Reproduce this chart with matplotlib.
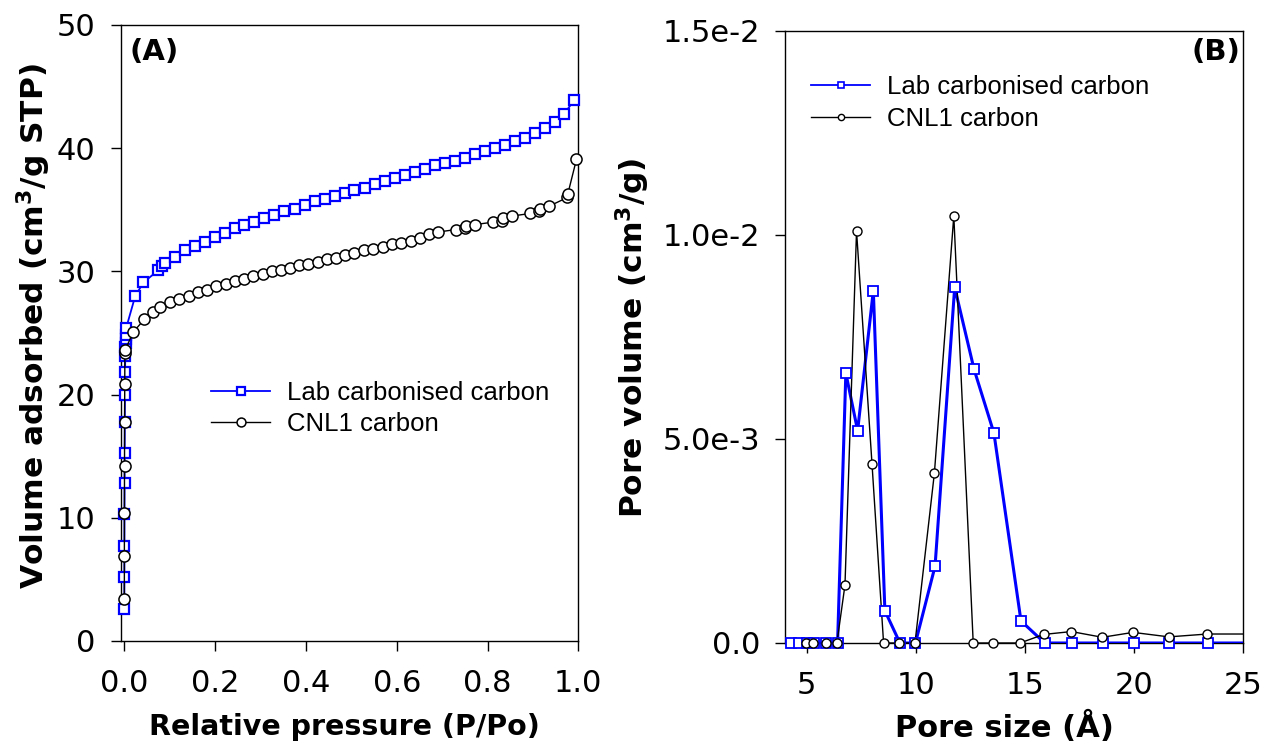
import numpy as np
import matplotlib
matplotlib.use("Agg")
import matplotlib.pyplot as plt
from matplotlib.ticker import FixedLocator, FixedFormatter
from matplotlib.lines import Line2D

# ---------------- data: panel A (isotherms) ----------------
pA_lab = [0.00005, 0.0001, 0.0002, 0.0003, 0.0005, 0.0007, 0.001, 0.0013, 0.0016,
          0.002, 0.0023, 0.0026, 0.003, 0.0035, 0.004,
          0.024, 0.042, 0.075, 0.082, 0.090, 0.112, 0.134, 0.156, 0.178, 0.200,
          0.222, 0.244, 0.264, 0.286, 0.308, 0.330, 0.352, 0.376, 0.398, 0.420,
          0.442, 0.464, 0.486, 0.507, 0.530, 0.552, 0.574, 0.596, 0.618, 0.640,
          0.662, 0.684, 0.706, 0.728, 0.750, 0.772, 0.794, 0.816, 0.838, 0.860,
          0.882, 0.904, 0.926, 0.948, 0.969, 0.991]
vA_lab = [2.6, 5.2, 7.7, 10.3, 12.8, 15.3, 17.8, 20.0, 21.8,
          23.1, 23.9, 24.2, 24.5, 24.8, 25.4,
          28.0, 29.1, 30.1, 30.4, 30.7, 31.2, 31.7, 32.1, 32.4, 32.8,
          33.1, 33.5, 33.8, 34.0, 34.3, 34.6, 34.9, 35.1, 35.4, 35.7,
          35.9, 36.1, 36.4, 36.6, 36.8, 37.1, 37.3, 37.6, 37.8, 38.1,
          38.3, 38.6, 38.8, 39.0, 39.2, 39.5, 39.8, 40.0, 40.3, 40.6,
          40.8, 41.2, 41.6, 42.1, 42.8, 43.9]

pA_cnl = [0.00005, 0.0001, 0.0002, 0.0004, 0.0006, 0.0009, 0.0012, 0.0015,
          0.020, 0.044, 0.064, 0.079, 0.101, 0.121, 0.142, 0.162, 0.183, 0.203,
          0.224, 0.244, 0.264, 0.284, 0.305, 0.325, 0.345, 0.365, 0.385, 0.405,
          0.426, 0.446, 0.466, 0.486, 0.507, 0.528, 0.548, 0.569, 0.590, 0.610,
          0.631, 0.651, 0.672, 0.692, 0.731, 0.751, 0.752, 0.772, 0.813, 0.833,
          0.834, 0.855, 0.894, 0.914, 0.916, 0.936, 0.976, 0.977, 0.996]
vA_cnl = [3.4, 6.9, 10.4, 14.2, 17.8, 20.9, 23.4, 23.6,
          25.1, 26.1, 26.7, 27.1, 27.5, 27.8, 28.0, 28.3, 28.5, 28.8,
          29.0, 29.2, 29.4, 29.6, 29.8, 30.0, 30.1, 30.3, 30.5, 30.6,
          30.8, 31.0, 31.1, 31.3, 31.5, 31.7, 31.8, 32.0, 32.2, 32.3,
          32.5, 32.7, 33.0, 33.2, 33.4, 33.5, 33.7, 33.8, 34.0, 34.1,
          34.3, 34.5, 34.7, 34.9, 35.1, 35.3, 36.0, 36.3, 39.1]

# ---------------- data: panel B (pore size distribution) ----------------
dB_lab = [4.26, 4.65, 5.0, 5.34, 5.87, 6.41, 6.79, 7.33, 8.05, 8.58, 9.27, 9.98,
          10.88, 11.78, 12.67, 13.58, 14.82, 15.91, 17.16, 18.58, 20.0, 21.62,
          23.41, 26.5]
vB_lab = [0, 0, 0, 0, 0, 0, 0.00661, 0.00520, 0.00863, 0.00079, 0, 0,
          0.00188, 0.00871, 0.00670, 0.00514, 0.00054, 0, 0, 0, 0, 0,
          0, 0]
dB_cnl = [4.95, 5.30, 5.87, 6.38, 6.75, 7.28, 7.99, 8.52, 9.24, 9.96, 10.85,
          11.74, 12.63, 13.53, 14.77, 15.87, 17.13, 18.55, 19.96, 21.6, 23.37,
          26.5]
vB_cnl = [0, 0, 0, 0, 0.00142, 0.01009, 0.00438, 0, 0, 0, 0.00416,
          0.01046, 0, 0, 0, 0.00021, 0.00028, 0.00014, 0.00026, 0.00015, 0.00022,
          0.00022]

series_names = ["Lab carbonised carbon", "CNL1 carbon"]
xticksA = [0.0, 0.2, 0.4, 0.6, 0.8, 1.0]
xticklabelsA = ["0.0", "0.2", "0.4", "0.6", "0.8", "1.0"]
yticksA = [0, 10, 20, 30, 40, 50]
xticksB = [5, 10, 15, 20, 25]
yticksB = [0.0, 0.005, 0.010, 0.015]
yticklabelsB = ["0.0", "5.0e-3", "1.0e-2", "1.5e-2"]

BLUE = "#0000ff"
W, H = 1264, 745
fig = plt.figure(figsize=(W / 100, H / 100), dpi=100)
plt.rcParams['font.family'] = ['DejaVu Sans']


def px_rect(l, t, r, b):
    return [l / W, 1 - b / H, (r - l) / W, (b - t) / H]


axA = fig.add_axes(px_rect(120.7, 25, 578.3, 641))
axB = fig.add_axes(px_rect(785, 30.5, 1243, 643))

TICKFS = 22
XLABFS_A = 20.5
XLABFS_B = 22
YLABFS = 22.5
LEGFS = 18.5

for ax in (axA, axB):
    for s in ax.spines.values():
        s.set_linewidth(1.0)
        s.set_color("black")
    ax.tick_params(direction="out", length=7, width=1.0, labelsize=TICKFS,
                   top=False, right=False)
    ax.tick_params(axis="x", pad=13)
    ax.tick_params(axis="y", pad=11)

# ---- Panel A ----
axA.plot(pA_lab, vA_lab, color=BLUE, lw=1.3, marker="s", ms=7,
         mfc="white", mec=BLUE, mew=1.6, clip_on=False, zorder=3,
         label=series_names[0])
axA.plot(pA_cnl, vA_cnl, color="black", lw=1.0, marker="o", ms=8,
         mfc="white", mec="black", mew=1.1, clip_on=False, zorder=4,
         label=series_names[1])
axA.set_xlim(-0.008, 1.0)
axA.set_ylim(0, 50)
axA.xaxis.set_major_locator(FixedLocator(xticksA))
axA.xaxis.set_major_formatter(FixedFormatter(xticklabelsA))
axA.yaxis.set_major_locator(FixedLocator(yticksA))
axA.set_xlabel("Relative pressure (P/Po)", fontsize=XLABFS_A, fontweight="bold")
axA.set_ylabel(r"Volume adsorbed (cm$^\mathbf{3}$/g STP)", fontsize=YLABFS,
               fontweight="bold")
axA.xaxis.set_label_coords(0.490, -0.140)
axA.xaxis.label.set_va("center")
axA.yaxis.set_label_coords(-0.189, 0.511)
axA.yaxis.label.set_va("center")
axA.text(130 / W, 1 - 52 / H, "(A)", transform=fig.transFigure, fontsize=21,
         fontweight="bold", ha="left", va="center")

legA = axA.legend(loc="upper left", bbox_to_anchor=(211 / W, 1 - 381 / H),
                  bbox_transform=fig.transFigure, frameon=False,
                  prop={"family": "Liberation Sans", "size": LEGFS},
                  handlelength=2.3, handletextpad=0.65, labelspacing=0.26,
                  borderpad=0, borderaxespad=0, markerscale=0.8)

# ---- Panel B ----
xlimB = (4, 25)
axB.plot(dB_lab, vB_lab, color=BLUE, lw=2.2, zorder=3)
axB.plot(dB_cnl, vB_cnl, color="black", lw=1.0, zorder=4)
mL = [(x, y) for x, y in zip(dB_lab, vB_lab) if xlimB[0] <= x <= xlimB[1]]
mC = [(x, y) for x, y in zip(dB_cnl, vB_cnl) if xlimB[0] <= x <= xlimB[1]]
axB.plot([p[0] for p in mL], [p[1] for p in mL], ls="none", marker="s", ms=6.5,
         mfc="white", mec=BLUE, mew=1.3, clip_on=False, zorder=5)
axB.plot([p[0] for p in mC], [p[1] for p in mC], ls="none", marker="o", ms=6.5,
         mfc="white", mec="black", mew=1.0, clip_on=False, zorder=6)
axB.set_xlim(*xlimB)
axB.set_ylim(0, 0.015)
axB.xaxis.set_major_locator(FixedLocator(xticksB))
axB.yaxis.set_major_locator(FixedLocator(yticksB))
axB.yaxis.set_major_formatter(FixedFormatter(yticklabelsB))
axB.set_xlabel("Pore size (Å)", fontsize=XLABFS_B, fontweight="bold")
axB.set_ylabel(r"Pore volume (cm$^\mathbf{3}$/g)", fontsize=YLABFS,
               fontweight="bold")
axB.xaxis.set_label_coords(0.480, -0.137)
axB.xaxis.label.set_va("center")
axB.yaxis.set_label_coords(-0.332, 0.499)
axB.yaxis.label.set_va("center")
axB.text(1240 / W, 1 - 52 / H, "(B)", transform=fig.transFigure, fontsize=21,
         fontweight="bold", ha="right", va="center")

hb1 = Line2D([], [], color=BLUE, lw=1.3, marker="s", ms=5, mfc="white",
             mec=BLUE, mew=1.2)
hb2 = Line2D([], [], color="black", lw=1.0, marker="o", ms=4.5, mfc="white",
             mec="black", mew=1.0)
legB = axB.legend([hb1, hb2], series_names, loc="upper left",
                  bbox_to_anchor=(811 / W, 1 - 75 / H),
                  bbox_transform=fig.transFigure, frameon=False,
                  prop={"family": "Liberation Sans", "size": LEGFS},
                  handlelength=2.3, handletextpad=0.65, labelspacing=0.3,
                  borderpad=0, borderaxespad=0)

fig.savefig("out.png", dpi=100)
